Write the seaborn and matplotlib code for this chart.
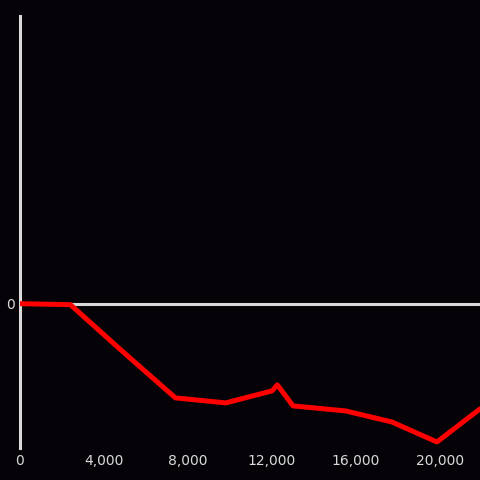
import matplotlib
matplotlib.use("Agg")
import matplotlib.pyplot as plt
import seaborn as sns
import pandas as pd

# data (y in arbitrary units, 0 = break-even)
steps = [0, 2400, 4900, 7400, 9800, 12000, 12250, 13000, 15500, 17700, 19850, 21900]
values = [0.0, -0.01, -0.48, -0.94, -0.99, -0.87, -0.81, -1.02, -1.07, -1.18, -1.38, -1.05]
x_ticks = [0, 4000, 8000, 12000, 16000, 20000]

bg = "#050307"
fg = "#d9d9d9"

sns.set_theme(style="dark", rc={"axes.facecolor": bg, "figure.facecolor": bg})
plt.rcParams['font.family'] = ['DejaVu Sans']

df = pd.DataFrame({"step": steps, "value": values})

fig = plt.figure(figsize=(4.8, 4.8), dpi=100)
ax = fig.add_axes([20 / 480, 32 / 480, 460 / 480, 432 / 480])

ax.axhline(0, color=fg, linewidth=2.2, zorder=1)
sns.lineplot(data=df, x="step", y="value", ax=ax, color="#ff0000", linewidth=3.6, zorder=3)

ax.set_xlim(0, 21900)
ax.set_ylim(-1.44, 2.87)
ax.set_xticks(x_ticks)
ax.set_xticklabels([f"{t:,}" for t in x_ticks])
ax.set_yticks([0])
ax.set_yticklabels(["0"])
ax.set_xlabel("")
ax.set_ylabel("")
ax.grid(False)
ax.tick_params(colors=fg, labelsize=10, length=0, pad=4)

for side in ["top", "right", "bottom"]:
    ax.spines[side].set_visible(False)
ax.spines["left"].set_visible(True)
ax.spines["left"].set_color(fg)
ax.spines["left"].set_linewidth(2.2)

fig.savefig("out.png", dpi=100, facecolor=bg)
